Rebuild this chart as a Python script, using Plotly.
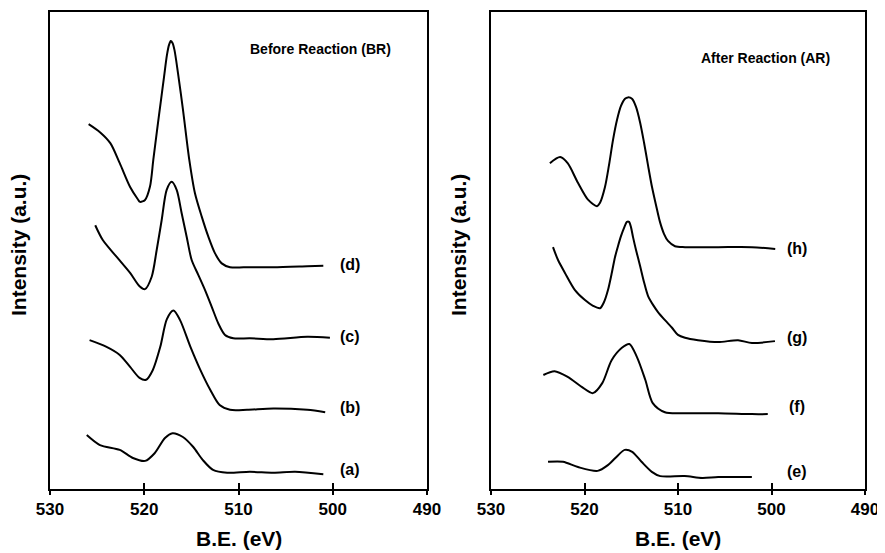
import plotly.graph_objects as go

# ---------------- data: Before Reaction (BR) ----------------
a_x = [526.1, 524.7, 522.6, 521.2, 519.9, 518.9, 517.8, 517.0, 515.9, 514.8, 513.8, 512.7, 511.2, 508.8, 506.3, 504.0, 501.0]
a_y = [11.3, 9.2, 8.2, 6.5, 5.9, 7.5, 10.7, 11.7, 10.9, 8.8, 6.1, 4.0, 3.4, 3.6, 3.4, 3.6, 3.1]

b_x = [525.8, 524.0, 522.6, 521.5, 520.5, 519.8, 519.1, 518.3, 517.6, 516.9, 516.2, 515.1, 514.1, 513.0, 512.0, 510.9, 509.1, 506.3, 502.7, 500.8]
b_y = [31.2, 29.8, 28.1, 25.6, 23.3, 22.9, 24.9, 29.8, 35.6, 37.4, 35.4, 29.8, 25.2, 20.8, 17.6, 16.6, 16.6, 16.9, 16.6, 16.1]

c_x = [525.2, 524.4, 522.9, 521.5, 520.5, 519.92, 519.21, 518.68, 518.15, 517.62, 517.09, 516.56, 516.03, 515.5, 514.97,
       514.27, 513.55, 512.84, 512.14, 511.43, 510.55, 508.78, 506.3, 502.7, 500.3]
c_y = [55.3, 52.2, 48.6, 45.3, 42.5, 41.9, 44.5, 50.1, 56.4, 62.7, 64.4, 62.7, 57.8, 52.9, 48.0,
       44.9, 41.7, 38.2, 34.7, 32.3, 31.6, 31.6, 31.4, 31.9, 31.7]

d_x = [525.9, 524.7, 523.6, 522.6, 521.5, 520.7, 520.45, 519.92, 519.39, 519.04, 518.65, 518.22, 517.90, 517.59, 517.37,
       517.19, 517.0, 516.79, 516.42, 515.89, 515.22, 514.62, 513.9, 513.2, 512.49, 511.78, 510.9, 508.8, 506.3, 502.7, 501.0]
d_y = [76.5, 74.8, 72.5, 68.3, 63.3, 60.8, 60.2, 60.6, 63.4, 69.0, 75.1, 81.6, 86.4, 91.0, 93.1,
       93.9, 93.5, 92.0, 87.2, 79.5, 69.0, 62.0, 57.1, 52.9, 49.4, 47.3, 46.5, 46.5, 46.5, 46.7, 46.8]

# ---------------- data: After Reaction (AR) ----------------
e_x = [523.9, 522.3, 520.7, 518.6, 517.5, 516.4, 515.7, 514.9, 513.9, 512.8, 511.9, 509.3, 507.4, 505.7, 502.1]
e_y = [5.7, 5.7, 4.6, 3.8, 5.0, 7.1, 8.2, 7.8, 5.7, 3.6, 2.7, 2.7, 2.3, 2.5, 2.5]

f_x = [524.4, 523.2, 521.8, 520.3, 519.1, 518.1, 517.1, 516.0, 515.2, 514.4, 513.5, 512.7, 511.4, 509.3, 505.7, 502.1, 500.4]
f_y = [23.9, 24.7, 23.5, 21.4, 20.1, 22.2, 27.0, 29.6, 30.4, 27.7, 22.9, 18.0, 16.1, 15.9, 15.9, 15.7, 15.7]

g_x = [523.37, 522.83, 522.09, 521.02, 519.95, 519.09, 518.34, 517.91, 517.49, 517.06, 516.74, 516.42, 516.10, 515.78, 515.46,
       515.24, 515.03, 514.81, 514.49, 514.06, 513.64, 513.21, 512.67, 512.14, 511.39, 510.64, 510.00, 509.25, 507.86,
       505.70, 503.58, 502.09, 499.63]
g_y = [50.7, 48.0, 45.3, 41.7, 39.6, 38.4, 37.9, 39.2, 41.7, 45.5, 48.6, 50.9, 53.0, 54.7, 56.0,
       56.0, 54.9, 52.8, 50.1, 46.8, 43.4, 40.5, 38.6, 37.1, 35.4, 33.8, 32.3, 31.7, 31.2,
       30.8, 31.2, 30.6, 31.0]

h_x = [523.7, 522.6, 521.8, 520.7, 519.6, 518.66, 518.34, 517.81, 517.38, 516.95, 516.52, 516.10, 515.67, 515.35, 514.92,
       514.49, 514.06, 513.64, 513.21, 512.78, 512.35, 511.93, 511.50, 511.07, 510.32, 509.25, 505.7, 502.1, 499.6]
h_y = [68.3, 69.6, 68.3, 64.2, 60.6, 59.3, 60.0, 63.3, 67.9, 73.2, 77.4, 80.3, 81.8, 82.1, 81.8,
       80.1, 76.9, 72.7, 67.9, 63.3, 59.5, 56.0, 53.5, 52.0, 50.9, 50.7, 50.7, 50.7, 50.3]

left_series = [("(a)", a_x, a_y, 4.0), ("(b)", b_x, b_y, 17.0), ("(c)", c_x, c_y, 31.9), ("(d)", d_x, d_y, 47.0)]
right_series = [("(e)", e_x, e_y, 3.6), ("(f)", f_x, f_y, 17.2), ("(g)", g_x, g_y, 31.7), ("(h)", h_x, h_y, 50.5)]

x_ticks = [530, 520, 510, 500, 490]
left_label_x = 498.2
right_label_x = 497.3
panel_titles = ["Before Reaction (BR)", "After Reaction (AR)"]
x_title = "B.E. (eV)"
y_title = "Intensity (a.u.)"

# the page body adds an 8px offset, so the figure is 8px smaller than the window
OFF = 8
W, H = 885 - OFF, 553 - OFF
FONT = "Liberation Sans, Arial, sans-serif"


def px(xs):
    return (xs - OFF) / W


def py(ys):
    return 1 - (ys - OFF) / H


fig = go.Figure()

for name, xs, ys, _ in left_series:
    fig.add_trace(go.Scatter(x=xs, y=ys, mode="lines", name=name, xaxis="x", yaxis="y",
                             line=dict(color="black", width=2, shape="spline", smoothing=0.8),
                             showlegend=False, hoverinfo="skip"))
for name, xs, ys, _ in right_series:
    fig.add_trace(go.Scatter(x=xs, y=ys, mode="lines", name=name, xaxis="x2", yaxis="y2",
                             line=dict(color="black", width=2, shape="spline", smoothing=0.8),
                             showlegend=False, hoverinfo="skip"))
# invisible traces on the overlay axes carrying the inner half of the tick marks
fig.add_trace(go.Scatter(x=[530], y=[0], xaxis="x3", yaxis="y", mode="markers",
                         marker=dict(opacity=0), showlegend=False, hoverinfo="skip"))
fig.add_trace(go.Scatter(x=[530], y=[0], xaxis="x4", yaxis="y2", mode="markers",
                         marker=dict(opacity=0), showlegend=False, hoverinfo="skip"))

dom_l = [px(50), px(427)]
dom_r = [px(491), px(865)]
dom_y = [py(489), py(12)]

xcommon = dict(range=[530, 490], tickmode="array", tickvals=x_ticks,
               ticks="outside", ticklen=4, tickwidth=1.5, tickcolor="black",
               showline=True, linecolor="black", linewidth=1.5, mirror=True,
               showgrid=False, zeroline=False, automargin=False,
               tickfont=dict(family=FONT, size=17, color="black", weight="bold"))
ycommon = dict(range=[0, 100], showticklabels=False, ticks="", showgrid=False, zeroline=False,
               showline=True, linecolor="black", linewidth=1.5, mirror=True, domain=dom_y,
               automargin=False)
xover = dict(range=[530, 490], tickmode="array", tickvals=x_ticks, ticks="inside", ticklen=6,
             tickwidth=1.5, tickcolor="black", showticklabels=False, showline=False,
             showgrid=False, zeroline=False, automargin=False)

fig.update_layout(
    template="none",
    width=W, height=H,
    margin=dict(l=0, r=0, t=0, b=0, pad=0),
    paper_bgcolor="white", plot_bgcolor="white",
    xaxis=dict(domain=dom_l, anchor="y", **xcommon),
    xaxis2=dict(domain=dom_r, anchor="y2", **xcommon),
    xaxis3=dict(overlaying="x", anchor="y", side="bottom", **xover),
    xaxis4=dict(overlaying="x2", anchor="y2", side="bottom", **xover),
    yaxis=dict(anchor="x", **ycommon),
    yaxis2=dict(anchor="x2", **ycommon),
)

ann = []
lab_font = dict(family=FONT, size=16, color="black", weight="bold")
title_font = dict(family=FONT, size=14, color="black", weight="bold")
for name, _, _, ly in left_series:
    ann.append(dict(x=left_label_x, y=ly, xref="x", yref="y", text=name, showarrow=False,
                    xanchor="center", yanchor="middle", font=lab_font))
for name, _, _, ly in right_series:
    ann.append(dict(x=right_label_x, y=ly, xref="x2", yref="y2", text=name, showarrow=False,
                    xanchor="center", yanchor="middle", font=lab_font))

ann.append(dict(x=px(320), y=py(49), xref="paper", yref="paper", text=panel_titles[0],
                showarrow=False, xanchor="center", yanchor="middle", font=title_font))
ann.append(dict(x=px(765), y=py(58), xref="paper", yref="paper", text=panel_titles[1],
                showarrow=False, xanchor="center", yanchor="middle", font=title_font))

for cx in [(50 + 427) / 2, (491 + 865) / 2]:
    ann.append(dict(x=px(cx), y=py(538), xref="paper", yref="paper", text=x_title,
                    showarrow=False, xanchor="center", yanchor="middle",
                    font=dict(family=FONT, size=21, color="black", weight="bold")))
for cx in [19, 459]:
    ann.append(dict(x=px(cx), y=py(245), xref="paper", yref="paper", text=y_title, textangle=-90,
                    showarrow=False, xanchor="center", yanchor="middle",
                    font=dict(family=FONT, size=21, color="black", weight="bold")))

fig.update_layout(annotations=ann)
fig.write_html("out.html")
